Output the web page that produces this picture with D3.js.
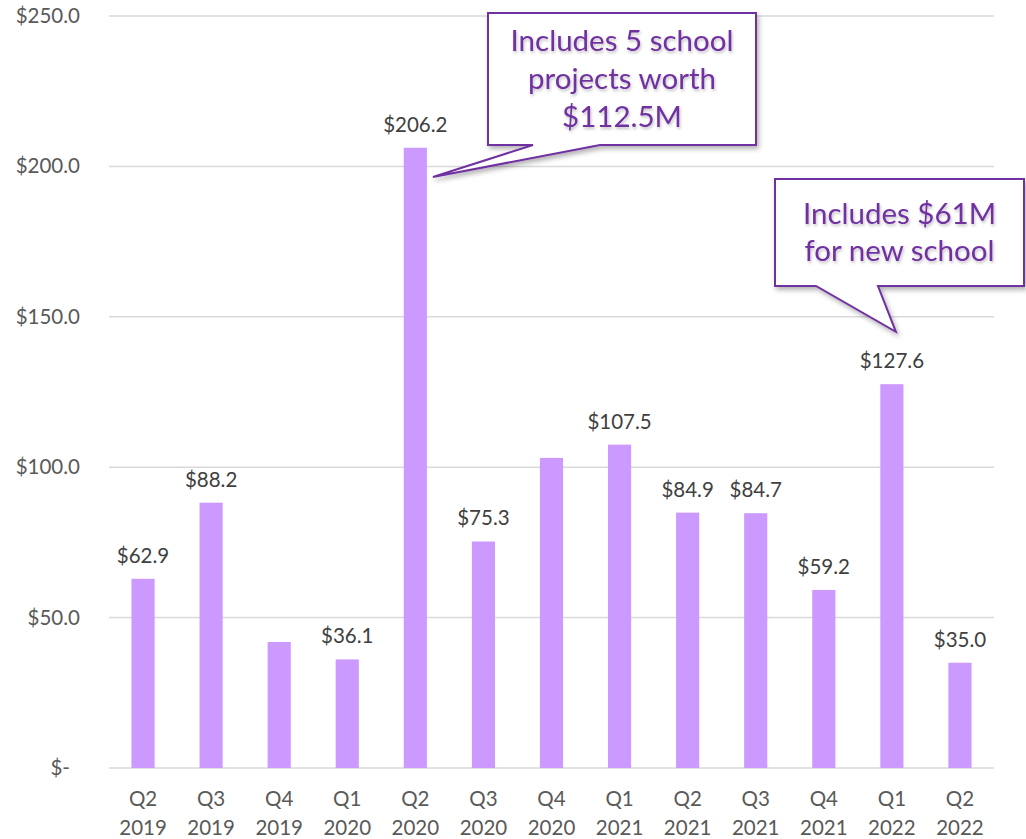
<!DOCTYPE html>
<html lang="en">
<head>
<meta charset="UTF-8">
<title>Quarterly values</title>
<script src="https://d3js.org/d3.v7.min.js"></script>
<style>
  body { margin: 0; background: #fff; }
  text { font-family: Lato, "Open Sans", sans-serif; }
</style>
</head>
<body>
<div id="chart"></div>
<script>
// data
var quarters = ["Q2", "Q3", "Q4", "Q1", "Q2", "Q3", "Q4", "Q1", "Q2", "Q3", "Q4", "Q1", "Q2"];
var years = ["2019", "2019", "2019", "2020", "2020", "2020", "2020", "2021", "2021", "2021", "2021", "2022", "2022"];
var values = [62.9, 88.2, 41.9, 36.1, 206.2, 75.3, 103.1, 107.5, 84.9, 84.7, 59.2, 127.6, 35.0];
var showLabel = [true, true, false, true, true, true, false, true, true, true, true, true, true];
var yTicks = [0, 50, 100, 150, 200, 250];

var W = 1026, H = 839;
var margin = {top: 16, right: 32, bottom: 71, left: 109};
var width = W - margin.left - margin.right,
    height = H - margin.top - margin.bottom;
var fs = 20.5;

var svg = d3.select("#chart").append("svg")
    .attr("width", W).attr("height", H);

var defs = svg.append("defs");
var f = defs.append("filter").attr("id", "shadow")
    .attr("x", "-10%").attr("y", "-10%").attr("width", "130%").attr("height", "140%");
f.append("feDropShadow").attr("dx", 2).attr("dy", 3).attr("stdDeviation", 2.5)
    .attr("flood-color", "#000").attr("flood-opacity", 0.3);
var tf = defs.append("filter").attr("id", "tshadow")
    .attr("x", "-10%").attr("y", "-20%").attr("width", "130%").attr("height", "150%");
tf.append("feDropShadow").attr("dx", 1).attr("dy", 2).attr("stdDeviation", 1.5)
    .attr("flood-color", "#000").attr("flood-opacity", 0.25);

var g = svg.append("g").attr("transform", "translate(" + margin.left + "," + margin.top + ")");

var idx = d3.range(values.length);
var x = d3.scaleBand().domain(idx).range([0, width]).paddingInner(0.66).paddingOuter(0.33);
var y = d3.scaleLinear().domain([0, 250]).range([height, 0]);

// gridlines
g.append("g").selectAll("line").data(yTicks).enter().append("line")
    .attr("x1", 0).attr("x2", width)
    .attr("y1", function(d) { return y(d); }).attr("y2", function(d) { return y(d); })
    .attr("stroke", "#d9d9d9").attr("stroke-width", 1.5);

// y axis labels
var yAxis = g.append("g")
    .call(d3.axisLeft(y).tickValues(yTicks).tickSize(0).tickPadding(29)
      .tickFormat(function(d) { return d === 0 ? "$-" : "$" + d3.format(".1f")(d); }));
yAxis.select(".domain").remove();
yAxis.selectAll("text").attr("font-size", fs).attr("fill", "#595959")
    .style("font-family", "Lato, 'Open Sans', sans-serif");
yAxis.selectAll(".tick").filter(function(d) { return d === 0; }).select("text")
    .attr("dx", -10);

// bars
g.append("g").selectAll("rect").data(idx).enter().append("rect")
    .attr("x", function(i) { return x(i); })
    .attr("y", function(i) { return y(values[i]); })
    .attr("width", x.bandwidth())
    .attr("height", function(i) { return y(0) - y(values[i]); })
    .attr("fill", "#cc99ff");

// value labels
g.append("g").selectAll("text").data(idx.filter(function(i) { return showLabel[i]; })).enter().append("text")
    .attr("x", function(i) { return x(i) + x.bandwidth() / 2; })
    .attr("y", function(i) { return y(values[i]) - 16; })
    .attr("text-anchor", "middle").attr("font-size", fs).attr("fill", "#404040")
    .text(function(i) { return "$" + d3.format(".1f")(values[i]); });

// x labels
var xl = g.append("g").selectAll("text").data(idx).enter().append("text")
    .attr("x", function(i) { return x(i) + x.bandwidth() / 2; })
    .attr("y", height + 38)
    .attr("text-anchor", "middle").attr("font-size", fs).attr("fill", "#595959");
xl.append("tspan").attr("x", function(i) { return x(i) + x.bandwidth() / 2; })
    .text(function(i) { return quarters[i]; });
xl.append("tspan").attr("x", function(i) { return x(i) + x.bandwidth() / 2; }).attr("dy", 29)
    .text(function(i) { return years[i]; });

// callouts
function callout(box, tailA, tailB, tip, lines, lineH, fontSize) {
  var p = d3.path();
  p.moveTo(box.x0, box.y0);
  p.lineTo(box.x1, box.y0);
  p.lineTo(box.x1, box.y1);
  p.lineTo(tailB, box.y1);
  p.lineTo(tip[0], tip[1]);
  p.lineTo(tailA, box.y1);
  p.lineTo(box.x0, box.y1);
  p.closePath();
  svg.append("path").attr("d", p.toString())
      .attr("fill", "#fff").attr("stroke", "#7030a0").attr("stroke-width", 2)
      .attr("filter", "url(#shadow)");
  var cx = (box.x0 + box.x1) / 2;
  var t = svg.append("text").attr("text-anchor", "middle")
      .attr("font-size", fontSize).attr("fill", "#7030a0").attr("filter", "url(#tshadow)");
  var top = (box.y0 + box.y1) / 2 - (lines.length - 1) * lineH / 2 + fontSize * 0.35;
  lines.forEach(function(s, k) {
    t.append("tspan").attr("x", cx).attr("y", top + k * lineH).text(s);
  });
}

var i1 = 4, i2 = 11;
callout({x0: 488, y0: 13, x1: 756, y1: 145}, 533, 600,
  [margin.left + x(i1) + x.bandwidth() + 6, margin.top + y(196.5)],
  ["Includes 5 school", "projects worth", "$112.5M"], 38, 29.5);
callout({x0: 775, y0: 179, x1: 1024, y1: 286}, 816, 878,
  [margin.left + x(i2) + x.bandwidth() / 2 + 4, margin.top + y(145)],
  ["Includes $61M", "for new school"], 37, 29.5);
</script>
</body>
</html>
